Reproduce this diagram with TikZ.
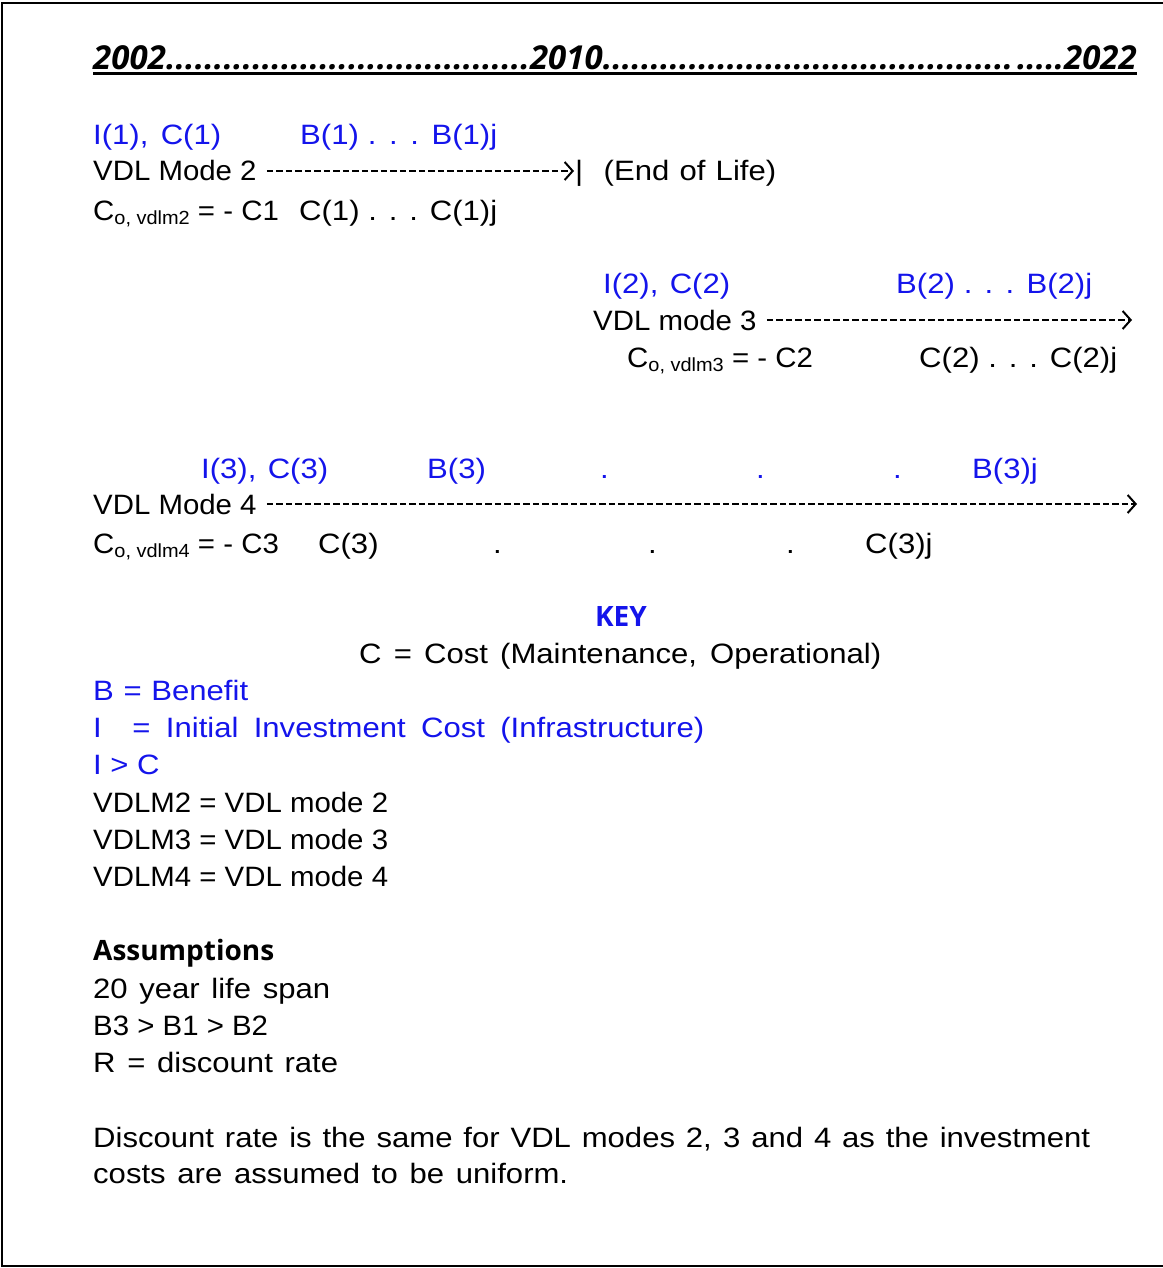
\documentclass[tikz,border=0pt]{standalone}
\usepackage{fontspec}
\setmainfont[FakeStretch=1.11]{Liberation Sans}
\newfontfamily\narrowf[FakeStretch=1.05]{Liberation Sans}
\newfontfamily\hdr{Open Sans}
\usetikzlibrary{arrows.meta}
\definecolor{kblue}{RGB}{20,20,235}
\newcommand{\subsc}[1]{\raisebox{-4pt}{\fontsize{19}{20}\selectfont #1}}
\newcommand{\W}[2]{\makebox[#1pt][s]{#2}}
\begin{document}
\begin{tikzpicture}[x=1pt,y=-1pt,
  txt/.style={anchor=base west, inner sep=0pt, font=\fontsize{28}{30}\selectfont},
  txtn/.style={anchor=base west, inner sep=0pt, font=\narrowf\fontsize{28}{30}\selectfont},
  bl/.style={txt, text=kblue},
  bold/.style={anchor=base west, inner sep=0pt, font=\hdr\bfseries\fontsize{28}{30}\selectfont},
  dashline/.style={line width=2.4pt, dash pattern=on 6.5pt off 3pt, -{Straight Barb[length=8pt,width=18pt,line width=2pt]}}]
\useasboundingbox (0,0) rectangle (1162,1268);
\draw[line width=2pt] (1200,3) -- (2,3) -- (2,1266) -- (1200,1266);

% header
\node[anchor=base west, inner sep=0pt, font=\hdr\bfseries\itshape\fontsize{33}{35}\selectfont] (years) at (93,70)
  {\hbox to 1044pt{\hbox to 437pt{2002\xleaders\hbox{.}\hfill}2010\xleaders\hbox{.}\hfill\hspace{4pt}.....2022}};
\draw[line width=3pt] ([yshift=-4pt]years.base west) -- ([yshift=-4pt]years.base east);

% VDL mode 2
\node[bl] (i1) at (93,145) {\W{128}{I(1), C(1)}};
\node[bl] (b1) at (300,145) {\W{197}{B(1) . . . B(1)j}};
\node[txtn] (m2) at (93,181) {VDL Mode 2};
\node[txt] (eol) at (575,181) {\W{201}{|\ \ (End of Life)}};
\draw[dashline] ([xshift=10pt]m2.east) -- ([xshift=-1pt]eol.west |- m2.east);
\node[txtn] (c2) at (93,220) {C\subsc{o, vdlm2} = - C1};
\node[txt] (cc1) at (299,220) {\W{198}{C(1) . . . C(1)j}};

% VDL mode 3
\node[bl] (i2) at (603,293) {\W{127}{I(2), C(2)}};
\node[bl] (b2) at (896,293) {\W{196}{B(2) . . . B(2)j}};
\node[txtn] (m3) at (593,330) {VDL mode 3};
\coordinate (e3) at (1132,330);
\draw[dashline] ([xshift=10pt]m3.east) -- (e3 |- m3.east);
\node[txtn] (c3) at (627,367) {C\subsc{o, vdlm3} = - C2};
\node[txt] (cc2) at (919,367) {\W{198}{C(2) . . . C(2)j}};

% VDL mode 4
\node[bl] (i3) at (201,478) {\W{127}{I(3), C(3)}};
\node[bl] (b3) at (427,478) {B(3)};
\node[bl] (d1) at (600,478) {.};
\node[bl] (d2) at (756,478) {.};
\node[bl] (d3) at (893,478) {.};
\node[bl] (b3j) at (972,478) {B(3)j};
\node[txtn] (m4) at (93,514) {VDL Mode 4};
\coordinate (e4) at (1137,514);
\draw[dashline] ([xshift=10pt]m4.east) -- (e4 |- m4.east);
\node[txtn] (c4) at (93,553) {C\subsc{o, vdlm4} = - C3};
\node[txt] (cc3) at (318,553) {C(3)};
\node[txt] (e1) at (493,553) {.};
\node[txt] (e2) at (648,553) {.};
\node[txt] (e3d) at (786,553) {.};
\node[txt] (c3j) at (865,553) {C(3)j};

% key
\node[bold, anchor=base, text=kblue] (key) at (621,626) {KEY};
\node[txt] (kc) at (359,663) {\W{522}{C = Cost (Maintenance, Operational)}};
\node[bl] (kb) at (93,700) {\W{155}{B = Benefit}};
\node[bl] (ki) at (93,737) {\W{611}{I\ \ = Initial Investment Cost (Infrastructure)}};
\node[bl] (kic) at (93,774) {I > C};
\node[txtn] (k2) at (93,812) {VDLM2 = VDL mode 2};
\node[txtn] (k3) at (93,849) {VDLM3 = VDL mode 3};
\node[txtn] (k4) at (93,886) {VDLM4 = VDL mode 4};

% assumptions
\node[bold] (as) at (93,960) {Assumptions};
\node[txt] (a1) at (93,998) {\W{237}{20 year life span}};
\node[txtn] (a2) at (93,1035) {B3 > B1 > B2};
\node[txt] (a3) at (93,1072) {\W{245}{R = discount rate}};
\node[txt] (a4) at (93,1147) {\W{997}{Discount rate is the same for VDL modes 2, 3 and 4 as the investment}};
\node[txt] (a5) at (93,1183) {\W{475}{costs are assumed to be uniform.}};
\end{tikzpicture}
\end{document}
